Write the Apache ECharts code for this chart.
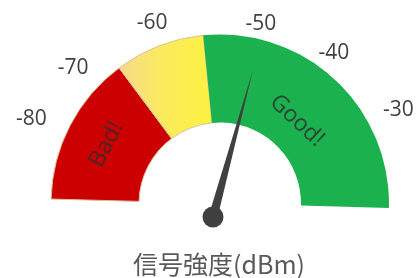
<!DOCTYPE html>
<html>
<head>
<meta charset="utf-8">
<style>
  html, body { margin: 0; padding: 0; background: #fff; }
  #main { width: 419px; height: 278px; }
</style>
<script src="https://cdn.jsdelivr.net/npm/echarts@6/dist/echarts.min.js"></script>
</head>
<body>
<div id="main"></div>
<script>
// 数据
var scaleMin = -80;
var scaleMax = -30;
var tickValues = [-80, -70, -60, -50, -40, -30];
var signalValue = -48;               // 指针
var bandNames = ['Bad!', '', 'Good!'];
var bandSpans = [14.4, 8.6, 27];     // 各色带宽度 (dBm)
var bandColors = ['#CC0000', 'yellow', '#1BB14E'];
var titleText = '信号強度(dBm)';

var chart = echarts.init(document.getElementById('main'));

var yellowFill = new echarts.graphic.LinearGradient(0, 0, 1, 0, [
  { offset: 0, color: '#F7D98F' },
  { offset: 0.45, color: '#FAEA5E' },
  { offset: 1, color: '#FCF240' }
]);

var total = 0;
bandSpans.forEach(function (v) { total += v; });

var pieData = bandNames.map(function (name, i) {
  var color = bandColors[i] === 'yellow' ? yellowFill : bandColors[i];
  return {
    name: name,
    value: bandSpans[i],
    itemStyle: {
      color: color,
      borderColor: i < 2 ? '#D8C29A' : color,
      borderWidth: i < 2 ? 1 : 0
    },
    label: { show: name !== '' }
  };
});
// 下半分は透明
pieData.push({
  name: 'blank',
  value: total,
  itemStyle: { color: 'rgba(0,0,0,0)' },
  label: { show: false }
});

var bandText = {
  fontFamily: 'Open Sans',
  fontSize: 23,
  color: 'rgba(45,45,45,0.8)'
};

// 目盛ラベルの微調整
var tickPads = [[0, 0, 48, 18], [21, 0, 0, 0], [6, 0, 0, 6], [12, 0, 0, 15], [0, 0, 0, 0], [0, 4, 22, 0]];
var tickRich = {};
tickPads.forEach(function (p, i) {
  tickRich['t' + i] = {
    padding: p,
    fontFamily: 'Open Sans',
    fontSize: 21,
    color: '#404040'
  };
});

var option = {
  animation: false,
  title: {
    text: titleText,
    left: 128,
    top: 247,
    textStyle: {
      fontFamily: 'Noto Sans CJK JP',
      fontSize: 25,
      fontWeight: 'normal',
      color: '#595959'
    }
  },
  series: [
    {
      type: 'pie',
      z: 1,
      center: [220, 203.5],
      radius: [81, 169],
      startAngle: 178.5,
      clockwise: true,
      silent: true,
      labelLine: { show: false },
      label: {
        position: 'inside',
        rotate: 'tangential',
        formatter: function (p) {
          return (p.dataIndex === 2 ? '{g|' : '{b|') + p.name + '}';
        },
        rich: {
          b: bandText,
          g: Object.assign({ padding: [30, 0, 0, 0] }, bandText)
        }
      },
      data: pieData
    },
    {
      // 目盛ラベル
      type: 'gauge',
      z: 3,
      center: [213, 230],
      radius: 232,
      startAngle: 158,
      endAngle: 28,
      min: scaleMin,
      max: scaleMax,
      splitNumber: tickValues.length - 1,
      axisLine: { show: false, lineStyle: { width: 0 } },
      splitLine: { show: false, length: 0, distance: 0 },
      axisTick: { show: false },
      axisLabel: {
        distance: 0,
        fontFamily: 'Open Sans',
        fontSize: 21,
        color: '#404040',
        formatter: function (v) {
          var i = tickValues.indexOf(Math.round(v));
          return '{t' + i + '|' + v + '}';
        },
        rich: tickRich
      },
      pointer: { show: false },
      anchor: { show: false },
      title: { show: false },
      detail: { show: false },
      data: []
    },
    {
      // 指针
      type: 'gauge',
      z: 5,
      center: [213, 217],
      radius: 160,
      startAngle: 158,
      endAngle: 28,
      min: scaleMin,
      max: scaleMax,
      axisLine: { show: false, lineStyle: { width: 0 } },
      splitLine: { show: false },
      axisTick: { show: false },
      axisLabel: { show: false },
      pointer: {
        length: 152,
        width: 4.5,
        itemStyle: { color: '#404040' }
      },
      anchor: {
        show: true,
        showAbove: true,
        size: 21,
        itemStyle: { color: '#404040' }
      },
      title: { show: false },
      detail: { show: false },
      data: [{ value: signalValue }]
    }
  ]
};

chart.setOption(option);
</script>
</body>
</html>
